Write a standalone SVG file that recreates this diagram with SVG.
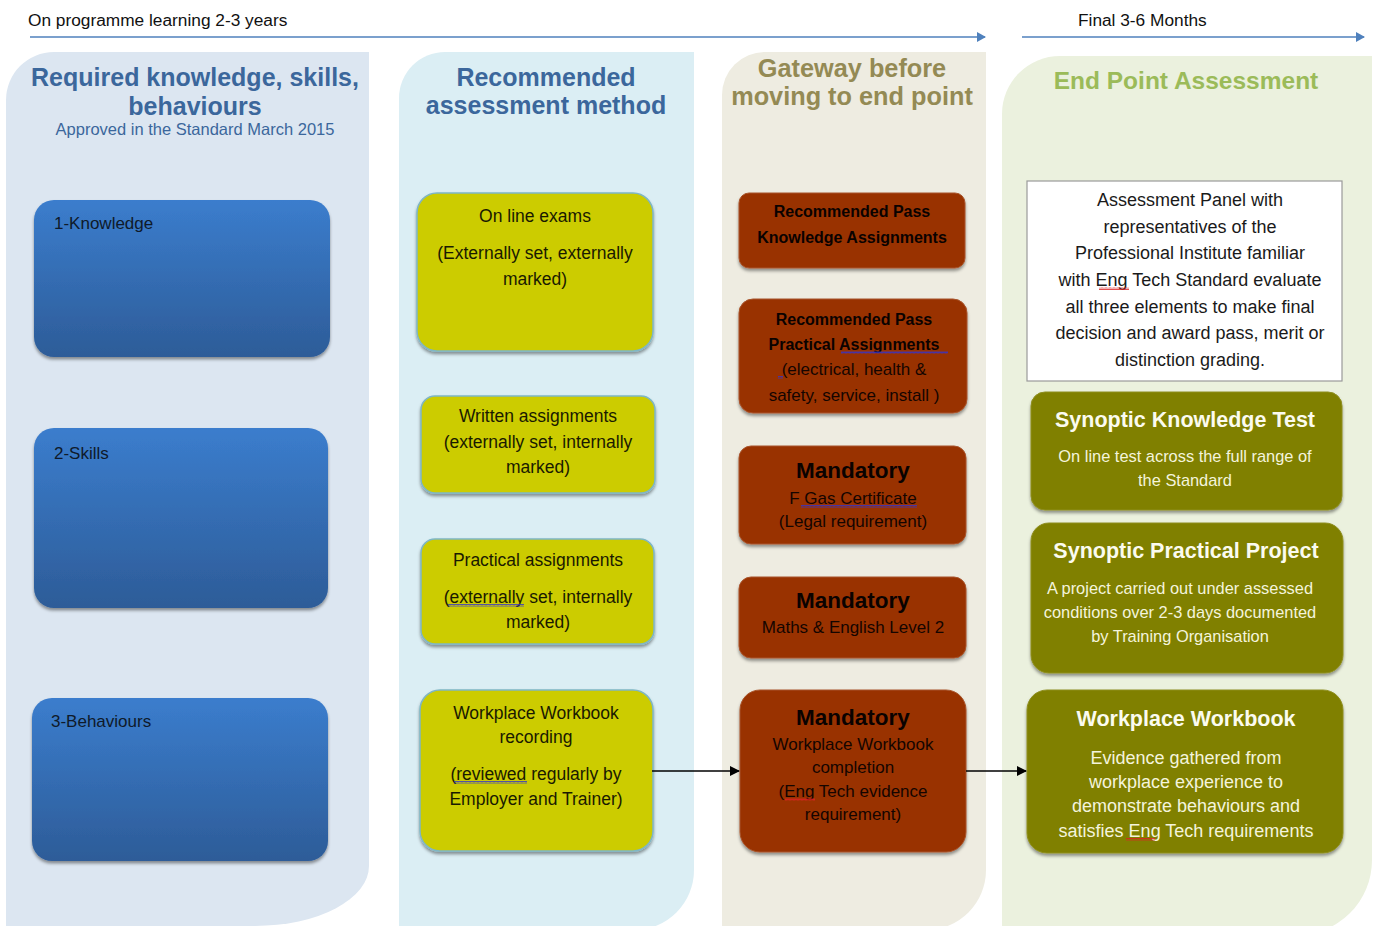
<svg xmlns="http://www.w3.org/2000/svg" width="1374" height="926" viewBox="0 0 1374 926">
<defs>
<style>
text{font-family:"Liberation Sans",Arial,sans-serif}
.top{font-size:17.3px;fill:#111}
.h1{font-size:25px;font-weight:bold;fill:#3b679c;text-anchor:middle}
.sub{font-size:16.5px;fill:#3b679c;text-anchor:middle}
.hg{font-size:25.3px;font-weight:bold;fill:#948a54;text-anchor:middle}
.he{font-size:24.5px;font-weight:bold;fill:#9bbb59;text-anchor:middle}
.bl{font-size:17px;fill:#0f1a2a}
.yt{font-size:17.5px;fill:#1a1a00;text-anchor:middle}
.bb{font-size:16px;font-weight:bold;fill:#0a0200;text-anchor:middle}
.bt{font-size:17px;fill:#140500;text-anchor:middle}
.bm{font-size:22.5px;font-weight:bold;fill:#0a0200;text-anchor:middle}
.wt{font-size:18px;fill:#1a1a1a;text-anchor:middle}
.ot{font-size:21.5px;font-weight:bold;fill:#fbfbef;text-anchor:middle}
.os{font-size:16.4px;fill:#f4f4dc;text-anchor:middle}
.ob{font-size:18px;fill:#f4f4dc;text-anchor:middle}
.blue{fill:url(#gb);filter:url(#sh)}
.yel{fill:#cccc00;stroke:#7fb6c4;stroke-width:1.5;filter:url(#sh)}
.brn{fill:#993300;stroke:#a8532a;stroke-width:1;filter:url(#sh)}
.olv{fill:#808000;stroke:#8e8e20;stroke-width:1;filter:url(#sh)}
.tl{stroke:#4f81bd;stroke-width:1.6;fill:none;marker-end:url(#ab)}
.con{stroke:#000;stroke-width:1.3;fill:none;marker-end:url(#ak)}
</style>
<linearGradient id="gb" x1="0" y1="0" x2="0" y2="1">
<stop offset="0" stop-color="#3b7dcd"/>
<stop offset="1" stop-color="#2d5c98"/>
</linearGradient>
<filter id="sh" x="-5%" y="-5%" width="110%" height="115%">
<feDropShadow dx="0" dy="2.5" stdDeviation="1.5" flood-color="#000" flood-opacity="0.4"/>
</filter>
<marker id="ab" markerWidth="10" markerHeight="10" refX="8" refY="5" orient="auto" markerUnits="userSpaceOnUse">
<path d="M0,0 L9,5 L0,10 Z" fill="#4f81bd"/>
</marker>
<marker id="ak" markerWidth="10" markerHeight="10" refX="9" refY="5" orient="auto" markerUnits="userSpaceOnUse">
<path d="M0,0 L10,5 L0,10 Z" fill="#000"/>
</marker>
<pattern id="wb" width="4" height="3" patternUnits="userSpaceOnUse">
<polyline points="0,2.5 1,0.5 2,2.5 3,0.5 4,2.5" fill="none" stroke="#3333cc" stroke-width="0.8"/>
</pattern>
<pattern id="wr" width="4" height="3" patternUnits="userSpaceOnUse">
<polyline points="0,2.5 1,0.5 2,2.5 3,0.5 4,2.5" fill="none" stroke="#dd2222" stroke-width="0.8"/>
</pattern>
</defs>

<g id="columns">
<path d="M6,100 A48,48 0 0 1 54,52 L369,52 L369,866 A114,60 0 0 1 255,926 L6,926 Z" fill="#dce6f1"/>
<path d="M399,98 A46,46 0 0 1 445,52 L694,52 L694,870 A60,60 0 0 1 634,930 L399,930 Z" fill="#dbeef4"/>
<path d="M722,95 A43,43 0 0 1 765,52 L986,52 L986,870 A60,60 0 0 1 926,930 L722,930 Z" fill="#eeece1"/>
<path d="M1002,114 A58,58 0 0 1 1060,56 L1372,56 L1372,860 A75,75 0 0 1 1297,935 L1002,935 Z" fill="#ebf1de"/>
</g>

<g id="timeline">
<text class="top" x="28" y="26">On programme learning 2-3 years</text>
<text class="top" x="1078" y="26">Final 3-6 Months</text>
<line class="tl" x1="30" y1="37" x2="985" y2="37"/>
<line class="tl" x1="1022" y1="37" x2="1364" y2="37"/>
</g>

<g id="headers">
<text class="h1" x="195" y="86">Required knowledge, skills,</text>
<text class="h1" x="195" y="115">behaviours</text>
<text class="sub" x="195" y="135">Approved in the Standard March 2015</text>
<text class="h1" x="546" y="86">Recommended</text>
<text class="h1" x="546" y="114">assessment method</text>
<text class="hg" x="852" y="77">Gateway before</text>
<text class="hg" x="852" y="105">moving to end point</text>
<text class="he" x="1186" y="89">End Point Assessment</text>
</g>

<g id="knowledge"><rect class="blue" x="34" y="200" width="296" height="157" rx="20"/><text class="bl" x="54" y="229">1-Knowledge</text></g>
<g id="skills"><rect class="blue" x="34" y="428" width="294" height="180" rx="20"/><text class="bl" x="54" y="459">2-Skills</text></g>
<g id="behaviours"><rect class="blue" x="32" y="698" width="296" height="163" rx="20"/><text class="bl" x="51" y="727">3-Behaviours</text></g>

<g id="online-exams"><rect class="yel" x="417" y="193" width="236" height="158" rx="20"/>
<text class="yt" x="535" y="222">On line exams</text>
<text class="yt" x="535" y="259">(Externally set, externally</text>
<text class="yt" x="535" y="285">marked)</text></g>

<g id="written"><rect class="yel" x="421" y="396" width="234" height="97" rx="14"/>
<text class="yt" x="538" y="422">Written assignments</text>
<text class="yt" x="538" y="448">(externally set, internally</text>
<text class="yt" x="538" y="473">marked)</text></g>

<g id="practical"><rect class="yel" x="421" y="539" width="233" height="105" rx="14"/>
<text class="yt" x="538" y="566">Practical assignments</text>
<text class="yt" x="538" y="603">(externally set, internally</text>
<text class="yt" x="538" y="628">marked)</text>
<rect x="448" y="604" width="76" height="3" fill="url(#wb)"/></g>

<g id="workbook-rec"><rect class="yel" x="420" y="690" width="233" height="161" rx="20"/>
<text class="yt" x="536" y="719">Workplace Workbook</text>
<text class="yt" x="536" y="743">recording</text>
<text class="yt" x="536" y="780">(reviewed regularly by</text>
<text class="yt" x="536" y="805">Employer and Trainer)</text>
<rect x="454" y="781" width="73" height="3" fill="url(#wb)"/></g>

<g id="rp-knowledge"><rect class="brn" x="739" y="193" width="226" height="75" rx="10"/>
<text class="bb" x="852" y="217">Recommended Pass</text>
<text class="bb" x="852" y="243">Knowledge Assignments</text></g>

<g id="rp-practical"><rect class="brn" x="739" y="299" width="228" height="114" rx="14"/>
<text class="bb" x="854" y="325">Recommended Pass</text>
<text class="bb" x="854" y="350">Practical Assignments</text>
<text class="bt" x="854" y="375">(electrical, health &amp;</text>
<text class="bt" x="854" y="401">safety, service, install )</text>
<rect x="841" y="351" width="107" height="3" fill="url(#wb)"/>
<rect x="778" y="376" width="5" height="3" fill="url(#wb)"/></g>

<g id="m-fgas"><rect class="brn" x="739" y="446" width="227" height="98" rx="12"/>
<text class="bm" x="853" y="478">Mandatory</text>
<text class="bt" x="853" y="504">F Gas  Certificate</text>
<text class="bt" x="853" y="527">(Legal requirement)</text>
<rect x="801" y="505" width="116" height="3" fill="url(#wb)"/></g>

<g id="m-maths"><rect class="brn" x="739" y="577" width="227" height="81" rx="12"/>
<text class="bm" x="853" y="608">Mandatory</text>
<text class="bt" x="853" y="633">Maths &amp; English Level 2</text></g>

<g id="m-workbook"><rect class="brn" x="740" y="690" width="226" height="162" rx="20"/>
<text class="bm" x="853" y="725">Mandatory</text>
<text class="bt" x="853" y="750">Workplace Workbook</text>
<text class="bt" x="853" y="773">completion</text>
<text class="bt" x="853" y="797">(Eng Tech evidence</text>
<text class="bt" x="853" y="820">requirement)</text>
<rect x="785" y="798" width="30" height="3" fill="url(#wr)"/></g>

<g id="panel"><rect x="1027" y="181" width="315" height="200" fill="#fff" stroke="#9a9a9a" stroke-width="1.2"/>
<text class="wt" x="1190" y="206">Assessment Panel with</text>
<text class="wt" x="1190" y="233">representatives of the</text>
<text class="wt" x="1190" y="259">Professional Institute familiar</text>
<text class="wt" x="1190" y="286">with Eng Tech Standard evaluate</text>
<text class="wt" x="1190" y="313">all three elements to make final</text>
<text class="wt" x="1190" y="339">decision and award pass, merit or</text>
<text class="wt" x="1190" y="366">distinction grading.</text>
<rect x="1099" y="287" width="30" height="3" fill="url(#wr)"/></g>

<g id="synoptic-knowledge"><rect class="olv" x="1031" y="392" width="311" height="118" rx="14"/>
<text class="ot" x="1185" y="427">Synoptic Knowledge Test</text>
<text class="os" x="1185" y="462">On line test across the full range of</text>
<text class="os" x="1185" y="486">the Standard</text></g>

<g id="synoptic-practical"><rect class="olv" x="1031" y="523" width="312" height="150" rx="18"/>
<text class="ot" x="1186" y="558">Synoptic Practical Project</text>
<text class="os" x="1180" y="594">A project carried out under assessed</text>
<text class="os" x="1180" y="618">conditions over 2-3 days documented</text>
<text class="os" x="1180" y="642">by Training Organisation</text></g>

<g id="epa-workbook"><rect class="olv" x="1027" y="690" width="316" height="163" rx="20"/>
<text class="ot" x="1186" y="726">Workplace Workbook</text>
<text class="ob" x="1186" y="764">Evidence gathered from</text>
<text class="ob" x="1186" y="788">workplace experience to</text>
<text class="ob" x="1186" y="812">demonstrate behaviours and</text>
<text class="ob" x="1186" y="837">satisfies Eng Tech requirements</text>
<rect x="1126" y="838" width="29" height="3" fill="url(#wr)"/></g>

<g id="connectors">
<line class="con" x1="652" y1="771" x2="739" y2="771"/>
<line class="con" x1="966" y1="771" x2="1026" y2="771"/>
</g>
</svg>
